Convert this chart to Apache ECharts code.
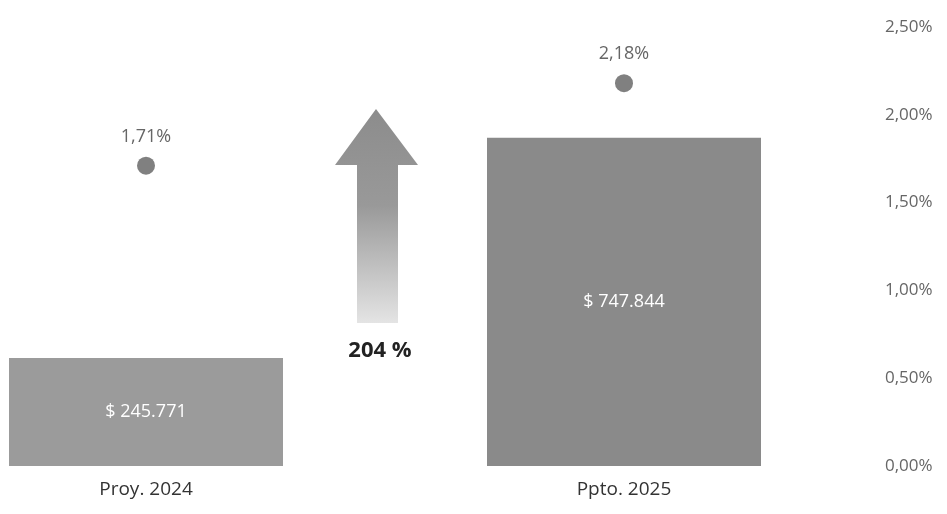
<!DOCTYPE html>
<html lang="es">
<head>
    <meta charset="UTF-8">
    <title>Proy. 2024 vs Ppto. 2025</title>
    <style>
        html, body { margin: 0; padding: 0; background: #fff; }
        #main { width: 947px; height: 514px; }
    </style>
</head>
<body>
    <div id="main"></div>
    <script src="https://cdn.jsdelivr.net/npm/echarts@6/dist/echarts.min.js"></script>
    <script>
        // datos del grafico
        var categorias = ['Proy. 2024', 'Ppto. 2025'];
        var montos = [245771, 747844];
        var tasas = [0.0171, 0.0218];
        var crecimiento = 204;

        var fuente = '"Open Sans", "Noto Sans", sans-serif';

        function miles(v) {
            return String(v).replace(/\B(?=(\d{3})+(?!\d))/g, '.');
        }
        function pct(v) {
            return (v * 100).toFixed(2).replace('.', ',') + '%';
        }

        var myChart = echarts.init(document.getElementById('main'));

        var option = {
            animation: false,
            grid: { left: 146, right: 323, top: 27, bottom: 48 },
            xAxis: {
                type: 'category',
                data: categorias,
                boundaryGap: false,
                axisLine: { show: false },
                axisTick: { show: false },
                axisLabel: { color: '#333', fontSize: 19, fontFamily: fuente, margin: 14 }
            },
            yAxis: [{
                type: 'value',
                min: 0,
                max: 1000000,
                show: false
            }, {
                type: 'value',
                position: 'right',
                min: 0,
                max: 0.025,
                interval: 0.005,
                offset: 253,
                splitLine: { show: false },
                axisLine: { show: false },
                axisTick: { show: false },
                axisLabel: {
                    color: '#666', fontSize: 17, fontFamily: fuente, margin: 8,
                    align: 'left', formatter: pct
                }
            }],
            series: [{
                type: 'bar',
                yAxisIndex: 0,
                barWidth: 274,
                data: [
                    { value: montos[0], itemStyle: { color: '#9b9b9b' } },
                    { value: montos[1], itemStyle: { color: '#8a8a8a' } }
                ],
                label: {
                    show: true,
                    position: 'inside',
                    color: '#fff',
                    fontSize: 18,
                    fontFamily: fuente,
                    formatter: function (p) { return '$ ' + miles(p.value); }
                }
            }, {
                type: 'line',
                yAxisIndex: 1,
                data: tasas,
                symbol: 'circle',
                symbolSize: 18,
                lineStyle: { width: 0 },
                itemStyle: { color: '#808080' },
                label: {
                    show: true,
                    position: 'top',
                    distance: 11,
                    color: '#666',
                    fontSize: 18,
                    fontFamily: fuente,
                    formatter: function (p) { return pct(p.value); }
                }
            }],
            graphic: [{
                type: 'polygon',
                shape: {
                    points: [[376, 109], [418, 165], [398, 165], [398, 323],
                             [357, 323], [357, 165], [335, 165]]
                },
                style: {
                    fill: new echarts.graphic.LinearGradient(0, 0, 0, 1, [
                        { offset: 0, color: '#8c8c8c' },
                        { offset: 0.45, color: '#999999' },
                        { offset: 1, color: '#e4e4e4' }
                    ])
                }
            }, {
                type: 'text',
                x: 380,
                y: 351,
                style: {
                    text: crecimiento + ' %',
                    fill: '#222',
                    font: 'bold 22px ' + fuente,
                    textAlign: 'center',
                    textVerticalAlign: 'middle'
                }
            }]
        };

        myChart.setOption(option);
    </script>
</body>
</html>
